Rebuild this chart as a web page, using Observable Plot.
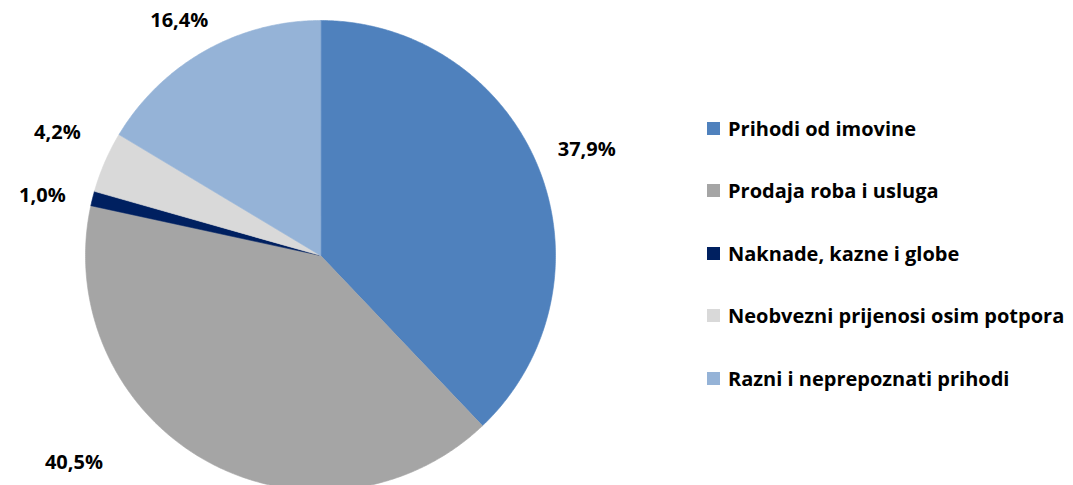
<!DOCTYPE html>
<html>
<head>
<meta charset="utf-8">
<script src="https://cdn.jsdelivr.net/npm/d3@7"></script>
<script src="https://cdn.jsdelivr.net/npm/@observablehq/plot@0.6"></script>
<style>
  html, body { margin: 0; padding: 0; background: #fff; }
  #wrap { position: relative; width: 1073px; height: 485px; overflow: hidden; font-family: "Open Sans", Lato, sans-serif; }
  #legend { position: absolute; left: 707px; top: 0; }
  .item { position: absolute; left: 0; white-space: nowrap; display: flex; align-items: center; font-weight: 700; font-size: 20px; color: #000; }
  .sw { width: 13px; height: 13px; margin-right: 8px; flex: none; }
</style>
</head>
<body>
<div id="wrap"><div id="chart"></div><div id="legend"></div></div>
<script>
const categories = [
  "Prihodi od imovine",
  "Prodaja roba i usluga",
  "Naknade, kazne i globe",
  "Neobvezni prijenosi osim potpora",
  "Razni i neprepoznati prihodi"
];
const shares = [37.9, 40.5, 1.0, 4.2, 16.4];
const colors = ["#4F81BD", "#A5A5A5", "#002060", "#D9D9D9", "#95B3D7"];

const W = 1073, H = 485;
const cx = 320, cy = 255, R = 235;
const total = d3.sum(shares);

// build slice polygons (clockwise from top)
const poly = [];
const labels = [];
let acc = 0;
categories.forEach((c, i) => {
  const a0 = acc / total * 2 * Math.PI;
  acc += shares[i];
  const a1 = acc / total * 2 * Math.PI;
  poly.push({cat: c, x: 0, y: 0});
  const n = Math.max(2, Math.ceil((a1 - a0) / (Math.PI / 360)));
  for (let j = 0; j <= n; j++) {
    const a = a0 + (a1 - a0) * j / n;
    poly.push({cat: c, x: Math.sin(a), y: Math.cos(a)});
  }
  const am = (a0 + a1) / 2;
  let lx = 1.22 * Math.sin(am), ly = 1.22 * Math.cos(am);
  const yMax = (cy - 20) / R, yMin = -(H - 23 - cy) / R;
  if (ly > yMax) ly = yMax;
  if (ly < yMin) { ly = yMin; lx = Math.sign(lx) * Math.sqrt(1.37 * 1.37 - ly * ly); }
  labels.push({cat: c, x: lx, y: ly, text: shares[i].toFixed(1).replace(".", ",") + "%"});
});
// spread labels on the same side that are too close vertically
const minGap = 63 / R;
for (const side of [-1, 1]) {
  const s = labels.filter(d => Math.sign(d.x) === side).sort((a, b) => b.y - a.y);
  for (let k = 1; k < s.length; k++) {
    const gap = s[k - 1].y - s[k].y;
    if (gap < minGap) {
      const push = (minGap - gap) / 2;
      s[k - 1].y += push;
      s[k].y -= push;
    }
  }
}

const plot = Plot.plot({
  width: W,
  height: H,
  margin: 0,
  x: {domain: [-1, 1], range: [cx - R, cx + R], axis: null},
  y: {domain: [-1, 1], range: [cy + R, cy - R], axis: null},
  color: {domain: categories, range: colors},
  style: {background: "#fff", overflow: "hidden"},
  marks: [
    Plot.line(poly, {x: "x", y: "y", z: "cat", fill: "cat", stroke: "cat", strokeWidth: 0.6, curve: "linear-closed"}),
    Plot.text(labels, {x: "x", y: "y", text: "text", fill: "#000", fontSize: 20, fontWeight: 700, fontFamily: "'Open Sans', Lato, sans-serif"})
  ]
});
document.getElementById("chart").appendChild(plot);

const legend = document.getElementById("legend");
const rowTop = 128, rowGap = 62.5;
categories.forEach((c, i) => {
  const it = document.createElement("div");
  it.className = "item";
  it.style.top = (rowTop + i * rowGap - 14) + "px";
  it.style.height = "28px";
  const sw = document.createElement("span");
  sw.className = "sw";
  sw.style.background = colors[i];
  const t = document.createElement("span");
  t.textContent = c;
  it.appendChild(sw);
  it.appendChild(t);
  legend.appendChild(it);
});
</script>
</body>
</html>
